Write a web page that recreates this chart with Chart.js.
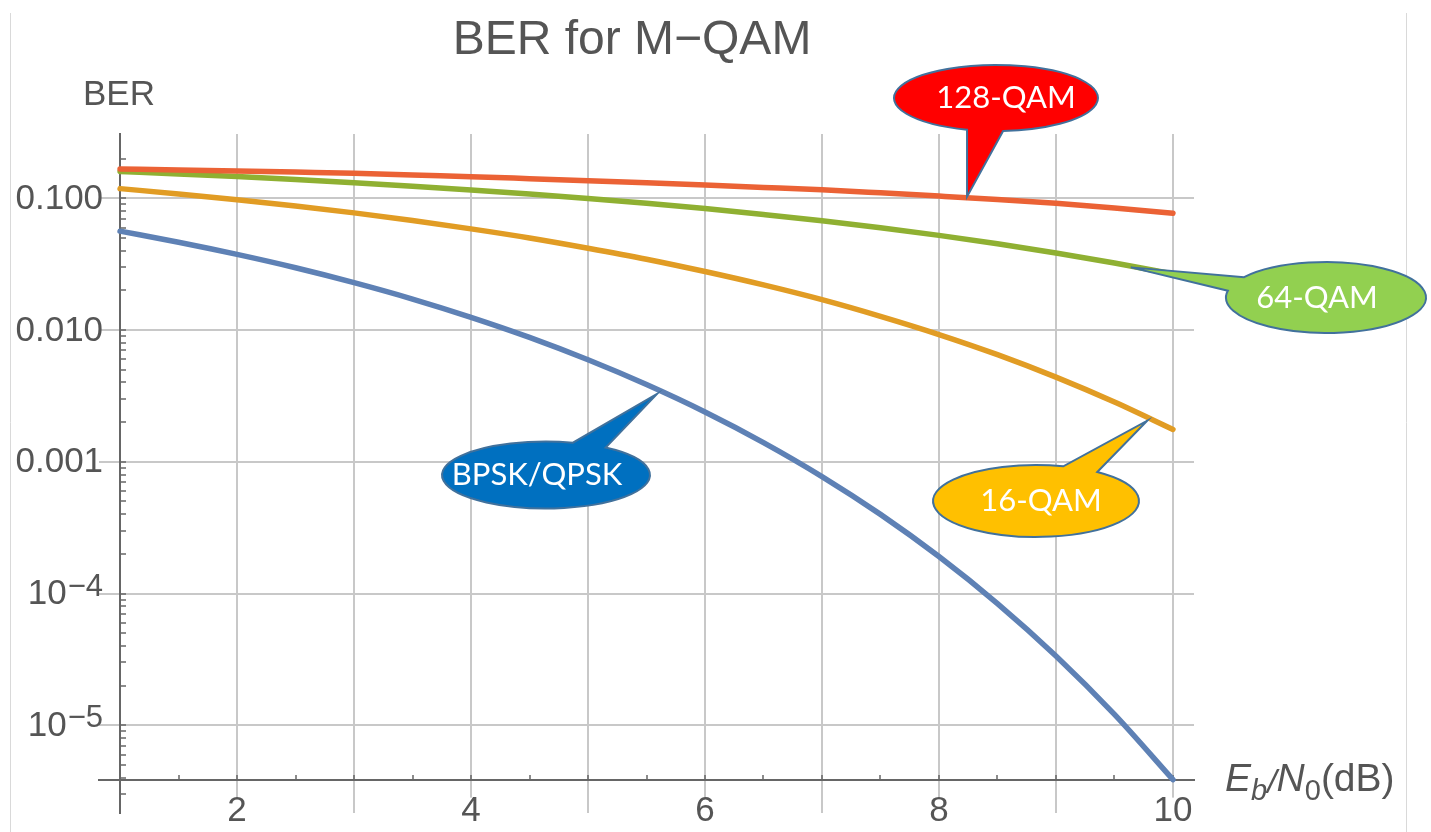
<!DOCTYPE html>
<html>
<head>
<meta charset="utf-8">
<title>BER for M-QAM</title>
<script src="https://cdn.jsdelivr.net/npm/chart.js@4.4.1/dist/chart.umd.min.js"></script>
<style>
	body { margin: 0; background: #fff; }
	#wrap { position: relative; width: 1431px; height: 832px; }
</style>
</head>
<body>
<div id="wrap"><canvas id="berChart"></canvas></div>
<script type="text/javascript">
	// Eb/N0 (dB), every half dB
	var ebn0 = [1, 1.5, 2, 2.5, 3, 3.5, 4, 4.5, 5, 5.5, 6, 6.5, 7, 7.5, 8, 8.5, 9, 9.5, 10];

	var berBpsk = [0.0563, 0.0464, 0.0375, 0.0297, 0.0229, 0.0172, 0.0125, 0.0088, 0.00595, 0.00386,
	               0.00239, 0.0014, 0.000773, 0.000399, 0.000191, 0.000084, 0.0000336, 0.0000121, 0.00000387];
	var ber16 = [0.1184, 0.1079, 0.0976, 0.0873, 0.0775, 0.0678, 0.0586, 0.05, 0.0418, 0.0345,
	             0.0278, 0.022, 0.017, 0.0127, 0.00924, 0.0065, 0.00439, 0.00284, 0.00176];
	var ber64 = [0.16, 0.1532, 0.1461, 0.1388, 0.1313, 0.1236, 0.1157, 0.1078, 0.0997, 0.0916,
	             0.0835, 0.0754, 0.0676, 0.0597, 0.0523, 0.0452, 0.0385, 0.0323, 0.0266];
	var ber128 = [0.167, 0.164, 0.161, 0.158, 0.155, 0.15, 0.146, 0.141, 0.136, 0.131,
	              0.126, 0.121, 0.116, 0.11, 0.104, 0.098, 0.0916, 0.0844, 0.0769];

	var xTicks = [1, 1.5, 2, 2.5, 3, 3.5, 4, 4.5, 5, 5.5, 6, 6.5, 7, 7.5, 8, 8.5, 9, 9.5, 10];
	var xLabelTicks = [2, 4, 6, 8, 10];
	var yMajorTicks = [0.1, 0.01, 0.001, 1e-4, 1e-5];
	var yTickLabels = ['0.100', '0.010', '0.001', '10^\u22124', '10^\u22125'];

	var callouts = [
		{ text: '128-QAM', fill: '#ff0000', tip: [8.24, 0.1028], cx: 996, cy: 98, rx: 102, ry: 33, gap: [86, 106.5], dx: 10 },
		{ text: '64-QAM', fill: '#92d050', tip: [9.64, 0.0299], cx: 1326, cy: 297.5, rx: 100, ry: 35.5, gap: [191, 215], dx: -9 },
		{ text: '16-QAM', fill: '#ffc000', tip: [9.78, 0.00205], cx: 1036, cy: 501, rx: 103, ry: 36, gap: [-74.6, -53.5], dx: 5 },
		{ text: 'BPSK/QPSK', fill: '#0070c0', tip: [5.59, 0.00327], cx: 546, cy: 475, rx: 104, ry: 33.5, gap: [-75, -55], dx: -9 }
	];

	var FONT = '"Liberation Sans", Arial, sans-serif';
	var textColor = '#555555';
	var axisColor = '#666666';
	var gridColor = '#c8c8c8';
	var none = 'rgba(0,0,0,0)';
	var xAxisAt = 3.87e-6;

	// every log tick between 2e-6 and 0.3, majors get a grid line
	var yAllTicks = [];
	for (var e = -6; e <= -1; e++) {
		for (var m = 1; m <= 9; m++) {
			var v = m * Math.pow(10, e);
			if (v > 2.16e-6 && v < 0.3) yAllTicks.push(v);
		}
	}

	function majorIndex(v) {
		for (var i = 0; i < yMajorTicks.length; i++) {
			if (Math.abs(Math.log10(v) - Math.log10(yMajorTicks[i])) < 1e-6) return i;
		}
		return -1;
	}

	function series(values) {
		return ebn0.map(function (x, i) { return { x: x, y: values[i] }; });
	}

	function line(label, values, color) {
		return {
			label: label,
			data: series(values),
			borderColor: color,
			borderWidth: 5.5,
			pointRadius: 0,
			fill: false,
			cubicInterpolationMode: 'monotone',
			borderCapStyle: 'round'
		};
	}

	var decorPlugin = {
		id: 'decor',
		afterDraw: function (chart) {
			var ctx = chart.ctx;
			var xs = chart.scales.x, ys = chart.scales.y;
			ctx.save();

			// frame of the original screenshot
			ctx.strokeStyle = '#d9d9d9';
			ctx.lineWidth = 1;
			ctx.beginPath();
			ctx.moveTo(10.5, 13); ctx.lineTo(10.5, 832);
			ctx.moveTo(1406.5, 13); ctx.lineTo(1406.5, 832);
			ctx.stroke();

			ctx.fillStyle = textColor;
			ctx.textBaseline = 'middle';
			ctx.textAlign = 'center';
			ctx.font = '48px ' + FONT;
			ctx.fillText('BER for M\u2212QAM', 632, 41);

			ctx.textAlign = 'left';
			ctx.font = '35px ' + FONT;
			ctx.fillText('BER', 83, 95);

			// y tick labels, powers of ten get a superscript
			var xr = xs.getPixelForValue(1) - 17;
			yMajorTicks.forEach(function (v, i) {
				var lab = yTickLabels[i];
				var py = ys.getPixelForValue(v);
				ctx.textAlign = 'right';
				if (lab.indexOf('^') < 0) {
					ctx.font = '35px ' + FONT;
					ctx.textBaseline = 'middle';
					ctx.fillText(lab, xr, py + 1);
					return;
				}
				var parts = lab.split('^');
				ctx.font = '31px ' + FONT;
				ctx.textBaseline = 'alphabetic';
				ctx.fillText(parts[1], xr, py + 2);
				var we = ctx.measureText(parts[1]).width;
				ctx.font = '35px ' + FONT;
				ctx.textBaseline = 'middle';
				ctx.fillText(parts[0], xr - we - 1, py + 1);
			});

			// x axis title E_b/N_0(dB)
			var segs = [
				{ t: 'E', f: 'italic 39px ', dy: 0 },
				{ t: 'b', f: 'italic 29px ', dy: 9 },
				{ t: '/', f: 'italic 34px ', dy: 2 },
				{ t: 'N', f: 'italic 39px ', dy: 0 },
				{ t: '0', f: '29px ', dy: 9 },
				{ t: '(dB)', f: '39px ', dy: 0 }
			];
			var tx = 1225, base = 791;
			ctx.textAlign = 'left';
			ctx.textBaseline = 'alphabetic';
			segs.forEach(function (s) {
				ctx.font = s.f + FONT;
				ctx.fillText(s.t, tx, base + s.dy);
				tx += ctx.measureText(s.t).width;
			});

			// speech-bubble callouts
			callouts.forEach(function (c) {
				var tipX = xs.getPixelForValue(c.tip[0]);
				var tipY = ys.getPixelForValue(c.tip[1]);
				var a1 = c.gap[0] * Math.PI / 180, a2 = c.gap[1] * Math.PI / 180;
				ctx.beginPath();
				ctx.ellipse(c.cx, c.cy, c.rx, c.ry, 0, a2, a1 + 2 * Math.PI, false);
				ctx.lineTo(tipX, tipY);
				ctx.closePath();
				ctx.fillStyle = c.fill;
				ctx.fill();
				ctx.strokeStyle = '#41719c';
				ctx.lineWidth = 2;
				ctx.lineJoin = 'miter';
				ctx.stroke();
				ctx.fillStyle = '#ffffff';
				ctx.font = '31px Lato, "Open Sans", sans-serif';
				ctx.textAlign = 'center';
				ctx.textBaseline = 'middle';
				ctx.fillText(c.text, c.cx + c.dx, c.cy);
			});

			ctx.restore();
		}
	};

	var chart = new Chart(document.getElementById('berChart'), {
		type: 'line',
		data: {
			datasets: [
				line('128-QAM', ber128, '#eb6235'),
				line('64-QAM', ber64, '#8fb032'),
				line('16-QAM', ber16, '#e19c24'),
				line('BPSK/QPSK', berBpsk, '#5e81b5')
			]
		},
		options: {
			responsive: true,
			maintainAspectRatio: false,
			animation: false,
			events: [],
			layout: { padding: { left: 99, right: 237, top: 134, bottom: 19 } },
			plugins: {
				legend: { display: false },
				tooltip: { enabled: false },
				title: { display: false }
			},
			scales: {
				x: {
					type: 'linear',
					min: 0.82,
					max: 10.18,
					position: { y: xAxisAt },
					afterBuildTicks: function (scale) {
						scale.ticks = xTicks.map(function (v) { return { value: v }; });
					},
					grid: {
						color: function (c) { return Number.isInteger(c.tick.value) ? gridColor : none; },
						lineWidth: 2,
						drawTicks: true,
						tickLength: -6,
						tickColor: axisColor,
						tickWidth: 1.5
					},
					border: { color: axisColor, width: 2 },
					ticks: {
						autoSkip: false,
						minRotation: 0,
						maxRotation: 0,
						padding: 20,
						color: textColor,
						font: { family: FONT, size: 35, lineHeight: 1 },
						callback: function (v) { return xLabelTicks.indexOf(v) >= 0 ? String(v) : ''; },
						showLabelBackdrop: true,
						backdropColor: function (c) { return xLabelTicks.indexOf(c.tick.value) >= 0 ? '#ffffff' : none; },
						backdropPadding: { top: -4, bottom: 0, left: 2, right: 2 }
					}
				},
				y: {
					type: 'logarithmic',
					min: 2.16e-6,
					max: 0.3076,
					position: { x: 1 },
					afterBuildTicks: function (scale) {
						scale.ticks = yAllTicks.map(function (v) { return { value: v }; });
					},
					grid: {
						color: function (c) { return majorIndex(c.tick.value) >= 0 ? gridColor : none; },
						lineWidth: 2,
						drawTicks: true,
						tickLength: -7,
						tickColor: axisColor,
						tickWidth: 1.5
					},
					border: { color: axisColor, width: 2 },
					ticks: { display: false, padding: 0 }
				}
			}
		},
		plugins: [decorPlugin]
	});
</script>
</body>
</html>
